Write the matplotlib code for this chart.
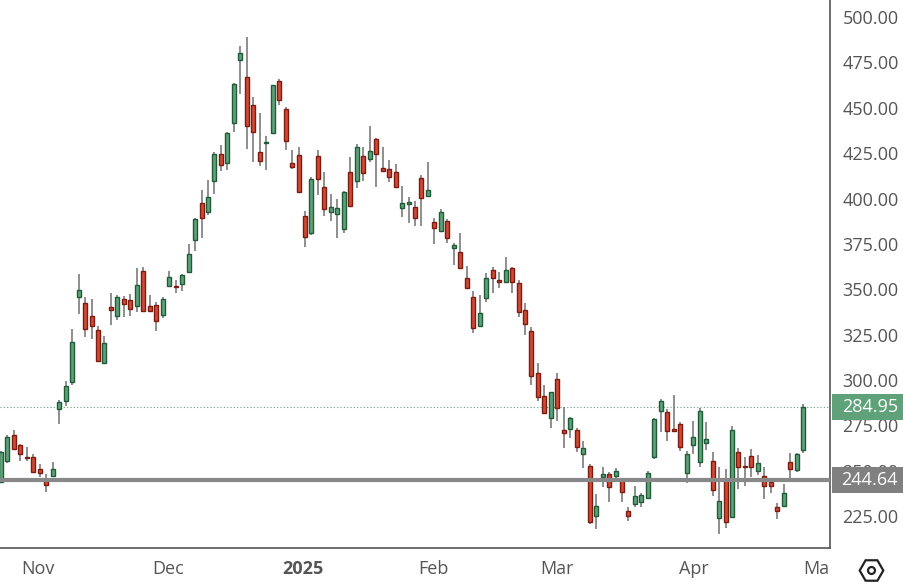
import matplotlib
matplotlib.use("Agg")
import matplotlib.pyplot as plt
from matplotlib.patches import Rectangle

opens = [244.0,255.3,269.7,264.1,257.6,257.4,251.2,244.4,247.1,284.0,288.5,298.8,345.9,342.4,335.2,327.6,309.6,340.3,335.2,344.8,343.8,340.8,360.2,341.0,341.4,335.6,351.6,351.6,353.0,359.4,377.2,397.7,392.6,409.6,424.8,419.8,441.4,476.2,466.8,451.6,425.4,430.7,436.0,464.9,449.6,419.4,424.0,390.3,381.2,423.4,406.1,392.7,391.3,383.0,414.4,409.8,423.6,421.6,432.6,416.6,416.0,414.4,394.6,396.8,395.1,411.1,401.5,386.8,382.2,387.6,372.9,370.3,356.0,345.5,329.9,345.0,360.6,355.1,353.8,361.5,353.2,338.5,326.9,303.6,291.1,279.2,300.5,272.4,272.8,272.4,259.0,252.6,225.2,246.7,248.0,247.2,244.8,227.9,231.4,232.9,234.7,257.3,283.1,282.5,272.8,275.7,248.9,263.9,254.6,265.0,255.3,223.7,244.8,224.3,260.1,252.6,258.3,249.8,247.2,243.6,230.1,230.7,254.6,250.4,261.4]
highs = [261.0,269.7,272.7,264.5,262.9,259.4,253.7,248.1,254.7,289.1,299.4,328.1,358.4,345.5,344.5,329.7,324.4,348.1,346.9,346.1,347.5,361.5,362.3,346.9,342.8,345.5,359.8,355.3,358.2,375.2,389.5,404.9,410.0,425.4,429.5,436.7,463.9,483.8,488.9,456.1,447.3,434.6,462.7,465.7,450.4,426.8,428.5,393.1,411.6,426.7,414.8,402.5,399.5,404.3,423.0,430.0,428.5,439.9,433.1,428.2,421.2,419.0,406.9,400.6,398.6,412.9,420.3,389.0,394.2,388.5,375.3,380.8,362.8,349.2,346.8,358.7,362.4,359.3,367.9,362.0,355.1,342.6,329.3,309.5,297.2,293.5,304.0,285.2,279.8,273.3,266.3,253.5,237.1,251.8,249.4,251.3,245.8,229.8,241.6,237.9,249.8,278.8,289.3,283.8,291.7,277.0,261.0,277.4,284.7,277.0,260.5,251.8,250.7,274.6,262.3,257.7,261.7,258.6,251.8,245.4,232.0,242.6,259.9,259.9,286.5]
lows = [243.0,254.3,261.5,255.3,255.3,248.8,246.5,238.5,246.7,275.8,285.6,297.3,336.2,323.6,322.5,310.2,309.0,330.1,332.8,334.8,335.2,337.7,337.7,337.7,327.0,334.2,351.2,348.1,348.9,359.0,371.1,378.3,391.0,402.4,415.1,415.8,436.7,457.8,427.4,420.3,417.8,415.8,435.6,451.6,426.8,416.2,403.2,373.4,379.9,401.9,390.3,387.8,378.0,380.8,395.1,405.9,409.8,420.3,406.5,414.8,409.3,406.1,389.6,386.7,384.8,385.0,401.4,374.7,381.7,375.6,363.3,361.0,350.1,325.7,329.3,343.1,348.1,350.5,353.6,348.1,334.8,324.7,297.2,288.4,281.2,273.7,277.4,262.3,268.2,260.5,251.3,220.6,217.6,241.2,232.9,244.8,232.9,222.4,230.1,230.1,234.2,256.4,271.5,266.5,272.0,261.0,243.4,259.2,251.8,261.4,236.0,215.1,218.2,224.3,239.7,241.5,246.3,247.6,234.2,237.9,223.2,230.1,245.8,249.4,259.9]
closes = [260.4,268.6,261.9,259.0,257.2,249.2,248.6,242.0,250.8,288.1,296.7,320.9,349.6,328.1,329.7,310.6,320.5,338.3,345.9,341.8,339.3,352.6,338.1,338.1,332.6,344.8,356.7,351.2,357.8,369.4,388.9,389.5,400.8,424.8,418.2,436.2,462.9,480.1,440.1,436.5,420.9,431.1,462.3,454.1,431.5,417.5,403.7,378.9,410.7,410.9,394.4,395.1,394.6,403.4,395.8,428.2,413.8,426.3,424.3,415.1,412.0,406.5,397.3,397.9,389.0,400.1,404.7,383.5,392.3,378.0,374.3,361.5,350.5,328.4,336.7,356.0,356.0,354.2,360.6,354.2,337.6,330.6,302.3,290.8,281.9,293.2,284.3,270.6,278.8,263.2,262.3,221.9,230.5,248.2,240.8,249.6,238.0,225.2,236.0,236.6,248.5,278.3,288.2,272.0,272.0,263.2,259.0,268.3,282.9,267.2,239.3,233.3,221.5,272.4,252.2,252.2,252.2,254.0,241.5,241.5,227.7,237.9,250.9,259.2,284.95]

month_labels = ["Nov", "Dec", "2025", "Feb", "Mar", "Apr", "Ma"]
month_pos = [5.7, 25.8, 46.7, 66.8, 86.0, 107.1, 126.0]
yticks = [225, 250, 275, 300, 325, 350, 375, 400, 425, 450, 475, 500]
last_price = 284.95
level = 244.64

W, H = 904, 582
fig = plt.figure(figsize=(W/100, H/100), dpi=100)
ax = fig.add_axes([0, 1-548/H, 830/W, 548/H])
ax.set_xlim(-0.15, 128.15)
ax.set_ylim(207.4, 509.4)

up_f, up_e = "#5fa27a", "#1f5b37"
dn_f, dn_e = "#d04a35", "#7c1c10"
bw = 0.62
for i, (o, h, l, c) in enumerate(zip(opens, highs, lows, closes)):
    ax.vlines(i, l, h, color="#707070", lw=1.1, zorder=2)
    up = c >= o
    bot, top = min(o, c), max(o, c)
    if top - bot < 0.6:
        top = bot + 0.6
    ax.add_patch(Rectangle((i - bw/2, bot), bw, top - bot,
                           facecolor=up_f if up else dn_f,
                           edgecolor=up_e if up else dn_e, lw=1.0, zorder=3))

ax.axhline(level, color="#888888", lw=3, zorder=4)
ax.axhline(last_price, color="#6b9a80", lw=0.8, ls=(0, (1, 2)), zorder=1)

for s in ["top", "left"]:
    ax.spines[s].set_visible(False)
ax.spines["right"].set_color("#555555")
ax.spines["bottom"].set_color("#555555")
ax.spines["right"].set_linewidth(1.2)
ax.spines["bottom"].set_linewidth(1.2)
ax.yaxis.tick_right()
ax.set_yticks(yticks)
ax.set_yticklabels([f"{v:.2f}" for v in yticks], fontsize=13, color="#555555", family="Open Sans")
ax.tick_params(axis="y", length=0, pad=9)
ax.set_xticks(month_pos)
ax.set_xticklabels(month_labels, fontsize=13, color="#555555", family="Open Sans")
for t in ax.get_xticklabels():
    if t.get_text() == "2025":
        t.set_fontweight("bold")
ax.tick_params(axis="x", length=0, pad=9)

# price tags at right axis
y0, y1 = ax.get_ylim()
for val, col in [(last_price, "#5fa27a"), (level, "#808080")]:
    fy = (1 - 548/H) + (val - y0) / (y1 - y0) * (548/H)
    fig.patches.append(Rectangle((832/W, fy - 13/H), 72/W, 26/H, transform=fig.transFigure,
                                 facecolor=col, edgecolor="none", zorder=5))
    fig.text(898/W, fy, f"{val:.2f}", fontsize=13, color="white", family="Open Sans",
             va="center", ha="right", zorder=6)

fig.lines.append(plt.Line2D([871/W], [1-570/H], marker="H", markersize=17, mfc="none",
                            mec="#222222", mew=1.6, transform=fig.transFigure))
fig.lines.append(plt.Line2D([871/W], [1-570/H], marker="o", markersize=5, mfc="none",
                            mec="#222222", mew=1.6, transform=fig.transFigure))

fig.savefig("out.png", dpi=100)
